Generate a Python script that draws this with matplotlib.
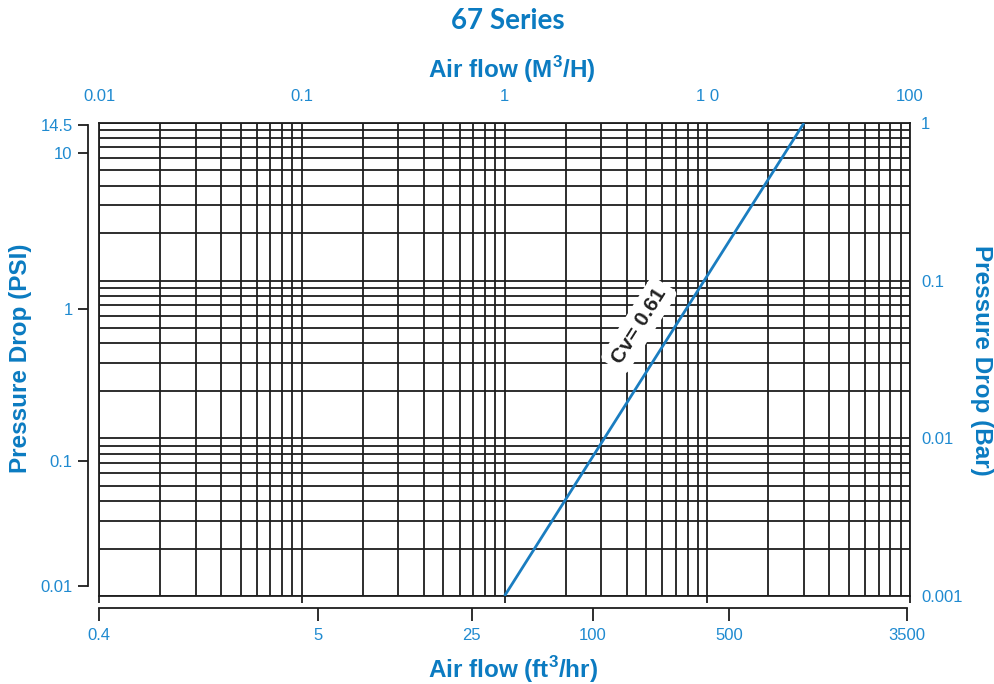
import matplotlib
matplotlib.use("Agg")
import matplotlib.pyplot as plt
from matplotlib.ticker import FixedLocator, NullLocator, NullFormatter, LogLocator

# --- data ---
m3h_ticks = [0.01, 0.1, 1, 10, 100]
m3h_labels = ["0.01", "0.1", "1", "1 0", "100"]

bar_ticks = [0.001, 0.01, 0.1, 1]
bar_labels = ["0.001", "0.01", "0.1", "1"]

psi_labels = ["14.5", "10", "1", "0.1", "0.01"]
psi_tick_pos = [0.973, 0.643, 0.0665, 0.00716, 0.00115]   # where they sit on the bar scale

cfh_labels = ["0.4", "5", "25", "100", "500", "3500"]
cfh_tick_pos = [0.01, 0.12, 0.69, 2.72, 12.8, 96.3]        # where they sit on the M3/H scale

cv_flow = [1, 30]          # M3/H
cv_drop = [0.001, 1]       # bar
cv_text = "Cv= 0.61"

BLUE = "#0b7bc1"
TICKBLUE = "#1f8ad0"
GRID = "#1e1e1e"

plt.rcParams["font.family"] = ["Liberation Sans", "DejaVu Sans"]
plt.rcParams["mathtext.fontset"] = "custom"
plt.rcParams["mathtext.rm"] = "Liberation Sans"
plt.rcParams["mathtext.bf"] = "Liberation Sans:bold"

W, H = 994, 684
fig = plt.figure(figsize=(W / 100, H / 100), dpi=100)
L, R, T, B = 99, 910, 123, 596
ax = fig.add_axes([L / W, 1 - B / H, (R - L) / W, (B - T) / H])
ax.set_xscale("log")
ax.set_yscale("log")
ax.set_xlim(0.01, 100)
ax.set_ylim(0.001, 1)

# PSI axis on the left, offset from the frame (made first so it does not
# pull the bar labels of the main axes to the left later)
axl = ax.twinx()
axl.set_yscale("log")
axl.set_ylim(ax.get_ylim())
axl.yaxis.set_ticks_position("left")
axl.yaxis.set_major_locator(FixedLocator(psi_tick_pos))
axl.set_yticklabels(psi_labels)
axl.yaxis.set_minor_locator(NullLocator())
for k in ["top", "right", "bottom"]:
    axl.spines[k].set_visible(False)
axl.spines["left"].set_position(("outward", 8))
axl.spines["left"].set_bounds(psi_tick_pos[-1], psi_tick_pos[0])
axl.spines["left"].set_color(GRID)
axl.spines["left"].set_linewidth(1.3)
axl.tick_params(axis="y", which="major", left=True, right=False,
                labelleft=True, labelright=False, length=7, width=1.3,
                color=GRID, labelcolor=TICKBLUE, labelsize=12, pad=4)

ax.plot(cv_flow, cv_drop, color="#1a7dc0", lw=2.0, solid_capstyle="butt", zorder=3)

# grid on every log subdivision
ax.xaxis.set_minor_locator(LogLocator(base=10, subs=range(2, 10)))
ax.yaxis.set_minor_locator(LogLocator(base=10, subs=range(2, 10)))
ax.xaxis.set_minor_formatter(NullFormatter())
ax.yaxis.set_minor_formatter(NullFormatter())
ax.grid(True, which="both", color=GRID, lw=1.3)
ax.set_axisbelow(True)
for s in ax.spines.values():
    s.set_color(GRID)
    s.set_linewidth(1.3)

ax.xaxis.set_major_locator(FixedLocator(m3h_ticks))
ax.set_xticklabels(m3h_labels)
ax.tick_params(axis="x", which="major", bottom=True, top=False,
               labelbottom=False, labeltop=True, length=5, width=1.3,
               color=GRID, labelcolor=TICKBLUE, labelsize=12, pad=9)
ax.yaxis.set_major_locator(FixedLocator(bar_ticks))
ax.set_yticklabels(bar_labels)
ax.tick_params(axis="y", which="major", left=False, right=False,
               labelleft=False, labelright=True, length=0,
               labelcolor=TICKBLUE, labelsize=12, pad=8)
ax.tick_params(which="minor", length=0)

# Cv label with white patch behind
axl.text(4.6, 0.052, cv_text, rotation=57.7, ha="center", va="center",
         fontsize=15, fontweight="bold", color="#222222", zorder=4,
         transform=ax.transData,
         bbox=dict(boxstyle="round,pad=0.3", fc="white", ec="none"))

# ft3/hr axis under the frame
axb = fig.add_axes([L / W, 1 - (B + 12) / H, (R - L) / W, 0.0001])
axb.set_xscale("log")
axb.set_xlim(0.01, 100)
axb.patch.set_visible(False)
axb.set_yticks([])
for k in ["top", "right", "left"]:
    axb.spines[k].set_visible(False)
axb.spines["bottom"].set_bounds(cfh_tick_pos[0], cfh_tick_pos[-1])
axb.spines["bottom"].set_color(GRID)
axb.spines["bottom"].set_linewidth(1.3)
axb.xaxis.set_major_locator(FixedLocator(cfh_tick_pos))
axb.set_xticklabels(cfh_labels)
axb.xaxis.set_minor_locator(NullLocator())
axb.tick_params(axis="x", length=9.5, width=1.3, color=GRID,
                labelcolor=TICKBLUE, labelsize=12, pad=5)

# titles
fig.text(508 / W, 1 - 21 / H, "67 Series", ha="center", va="center",
         fontsize=20, fontweight="bold", color=BLUE, family=["Lato", "DejaVu Sans"])
fig.text(512 / W, 1 - 70 / H, r"Air flow (M$^{\mathbf{3}}$/H)", ha="center", va="center",
         fontsize=17.5, fontweight="bold", color=BLUE)
fig.text(513 / W, 1 - 670 / H, r"Air flow (ft$^{\mathbf{3}}$/hr)", ha="center", va="center",
         fontsize=17.5, fontweight="bold", color=BLUE)
fig.text(21 / W, 1 - 358 / H, "Pressure Drop (PSI)", ha="center", va="center",
         rotation=90, fontsize=17.5, fontweight="bold", color=BLUE)
fig.text(982 / W, 1 - 360 / H, "Pressure Drop (Bar)", ha="center", va="center",
         rotation=-90, fontsize=17.5, fontweight="bold", color=BLUE)

fig.savefig("out.png", dpi=100)
